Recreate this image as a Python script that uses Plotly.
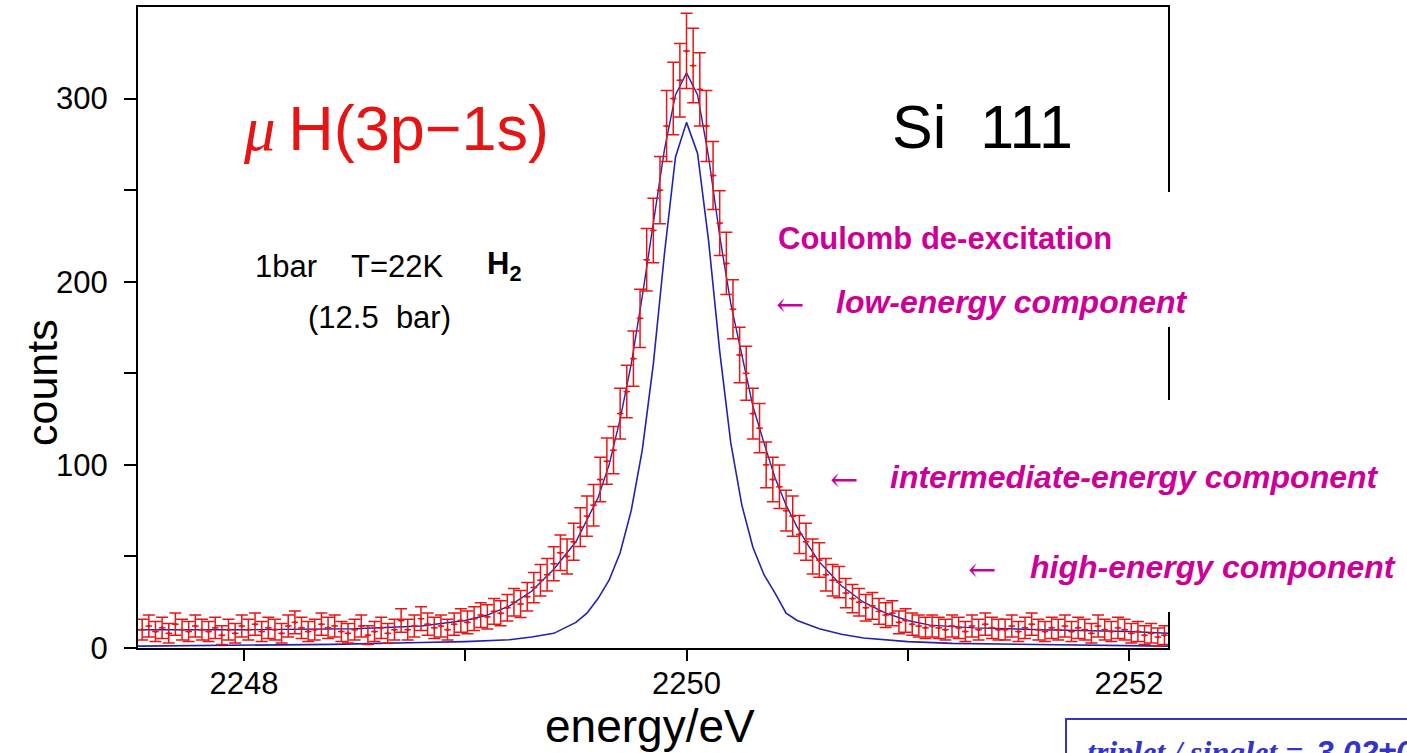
import numpy as np
import plotly.graph_objects as go

# ---------------- data ----------------
BIN_START = 2247.54   # eV, centre of first bin
BIN_WIDTH = 0.03      # eV

counts = [
    10, 12, 9, 11, 8, 13, 10, 9, 12, 10,
    9, 11, 7, 10, 8, 12, 10, 13, 9, 11,
    10, 8, 12, 14, 11, 9, 10, 13, 11, 12,
    9, 8, 10, 12, 7, 9, 11, 8, 10, 15,
    10, 12, 16, 13, 11, 12, 10, 13, 15, 14,
    16, 18, 17, 20, 19, 22, 25, 24, 28, 33,
    37, 40, 46, 52, 50, 58, 66, 72, 78, 92,
    102, 108, 128, 140, 158, 180, 212, 228, 250, 285,
    300, 310, 326, 318, 305, 285, 258, 232, 210, 185,
    160, 150, 128, 120, 100, 92, 88, 75, 72, 62,
    58, 50, 48, 40, 37, 36, 30, 27, 25, 22,
    23, 20, 18, 19, 14, 15, 13, 12, 11, 12,
    11, 10, 12, 11, 9, 12, 10, 13, 11, 10,
    10, 12, 9, 11, 13, 10, 9, 11, 10, 12,
    9, 11, 10, 8, 12, 10, 9, 11, 10, 8,
    9, 7, 8, 6, 7,
]
energy = [round(BIN_START + BIN_WIDTH * i, 3) for i in range(len(counts))]
errors = [float(np.sqrt(c)) + 2.5 for c in counts]

fit_energy = [2247.52, 2248.0, 2248.5, 2248.8, 2249.0, 2249.1, 2249.2, 2249.3, 2249.4,
              2249.5, 2249.6, 2249.65, 2249.7, 2249.75, 2249.8, 2249.85, 2249.9,
              2249.95, 2250.0, 2250.05, 2250.1, 2250.15, 2250.2, 2250.25, 2250.3,
              2250.35, 2250.4, 2250.45, 2250.5, 2250.55, 2250.6, 2250.7, 2250.8,
              2250.9, 2251.0, 2251.1, 2251.3, 2251.6, 2252.0, 2252.18]
fit_counts = [10, 10, 10.5, 12, 15, 18, 23, 31, 43,
              58, 82, 100, 125, 155, 192, 232, 272,
              302, 314, 302, 268, 225, 188, 160, 132,
              112, 93, 78, 66, 56, 47, 34, 25,
              19, 15, 12.5, 11, 10, 9, 8]

resp_energy = [2247.52, 2248.0, 2248.4, 2248.8, 2249.0, 2249.2, 2249.3, 2249.4, 2249.5,
               2249.55, 2249.6, 2249.65, 2249.7, 2249.75, 2249.8, 2249.85, 2249.9,
               2249.95, 2250.0, 2250.05, 2250.1, 2250.15, 2250.2, 2250.25, 2250.3,
               2250.35, 2250.4, 2250.45, 2250.5, 2250.6, 2250.7, 2250.8, 2250.9,
               2251.0, 2251.2, 2251.5, 2252.18]
resp_counts = [1, 1.5, 2, 3, 3.5, 4.5, 6, 8, 14,
               19, 27, 37, 52, 75, 108, 155, 215,
               268, 287, 270, 222, 162, 112, 78, 55,
               40, 30, 19, 15, 10.5, 7.5, 5.5, 4.5,
               3.5, 2.5, 2, 1]

x_tick_vals = [2248, 2250, 2252]
x_minor_vals = [2249, 2251]
y_tick_vals = [0, 100, 200, 300]
y_minor_vals = [50, 150, 250]

# ---------------- layout helpers ----------------
W, H = 1407, 753
L, R, T, B = 138, 239, 7, 105
PW, PH = W - L - R, H - T - B


def px(x):
    return (x - L) / PW


def py(y):
    return (H - B - y) / PH


SANS = "Liberation Sans, Arial, Helvetica, sans-serif"
SERIF = "Liberation Serif, Times New Roman, serif"
ARROWFONT = "DejaVu Serif, DejaVu Sans, serif"
MAGENTA = "#CC0099"
BLUE_BOX = "#3434C8"
LINE_BLUE = "#2222B0"
RED = "rgb(235,20,20)"

fig = go.Figure()

fig.add_trace(go.Scatter(x=resp_energy, y=resp_counts, mode="lines",
                         line=dict(color=LINE_BLUE, width=1.6), hoverinfo="skip"))
fig.add_trace(go.Scatter(x=fit_energy, y=fit_counts, mode="lines",
                         line=dict(color=LINE_BLUE, width=1.4), hoverinfo="skip"))
fig.add_trace(go.Scatter(
    x=energy, y=counts, mode="markers",
    marker=dict(color=RED, size=3),
    error_y=dict(type="data", array=errors, color=RED, thickness=1.5, width=6),
    error_x=dict(type="constant", value=BIN_WIDTH / 2, color=RED, thickness=1.5, width=0),
))

axis_common = dict(showgrid=False, zeroline=False, showline=True, linecolor="black",
                   linewidth=2, mirror=True, ticks="outside", tickcolor="black",
                   tickwidth=2, tickfont=dict(family=SANS, size=31, color="black"))

fig.update_xaxes(range=[2247.521, 2252.176], tickmode="array", tickvals=x_tick_vals,
                 ticktext=[str(v) for v in x_tick_vals], ticklen=11,
                 minor=dict(tickmode="array", tickvals=x_minor_vals, ticks="outside",
                            ticklen=11, tickwidth=2, tickcolor="black"),
                 ticklabelstandoff=-4, **axis_common)
fig.update_yaxes(range=[0, 350], tickmode="array", tickvals=y_tick_vals,
                 ticktext=[str(v) for v in y_tick_vals], ticklen=12,
                 minor=dict(tickmode="array", tickvals=y_minor_vals, ticks="outside",
                            ticklen=12, tickwidth=2, tickcolor="black"),
                 ticklabelstandoff=10, **axis_common)

shapes = [
    # white patches interrupting the right frame behind the annotations
    dict(type="rect", xref="paper", yref="paper", x0=px(1150), x1=px(1190),
         y0=py(327), y1=py(192), fillcolor="white", line=dict(width=0), layer="above"),
    dict(type="rect", xref="paper", yref="paper", x0=px(1150), x1=px(1190),
         y0=py(612), y1=py(400), fillcolor="white", line=dict(width=0), layer="above"),
    # blue box at the bottom right
    dict(type="rect", xref="paper", yref="paper", x0=px(1066), x1=px(1430),
         y0=py(800), y1=py(719), fillcolor="rgba(0,0,0,0)",
         line=dict(color=BLUE_BOX, width=2), layer="above"),
]

ann = []


def add(text, x, y, size, color="black", family=SANS, xanchor="left", **kw):
    ann.append(dict(text=text, x=px(x), y=py(y), xref="paper", yref="paper",
                    xanchor=xanchor, yanchor="middle", showarrow=False,
                    font=dict(family=family, size=size, color=color), **kw))


add("counts", 42, 383, 43, textangle=-90, xanchor="center")
add("energy/eV", 650, 726, 46, xanchor="center")
add("<span style=\"font-family:Liberation Serif\"><i>μ</i></span>\u2009H(3p\u22121s)",
    396, 128, 63, color="rgb(230,20,20)", xanchor="center")
add("Si\u00a0\u00a0111", 982, 127, 61, xanchor="center")
add("1bar", 253, 266, 31)
add("T=22K", 349, 266, 31)
add("<b>H<sub>2</sub></b>", 485, 266, 31)
add("(12.5\u00a0\u00a0bar)", 306, 317, 31)
add("<b>Coulomb de-excitation</b>", 776, 238, 31, color=MAGENTA)
add("\u2190", 774, 304, 34, color=MAGENTA, family=ARROWFONT)
add("<b><i>low-energy component</i></b>", 834, 302, 32, color=MAGENTA)
add("\u2190", 828, 479, 34, color=MAGENTA, family=ARROWFONT)
add("<b><i>intermediate-energy component</i></b>", 888, 477, 32, color=MAGENTA)
add("\u2190", 966, 569, 34, color=MAGENTA, family=ARROWFONT)
add("<b><i>high-energy component</i></b>", 1028, 567, 32, color=MAGENTA)
add("<b><i>triplet / singlet =</i></b>", 1085, 752, 32, color=BLUE_BOX, family=SERIF)
add("<b><i>3.02±0</i></b>", 1314, 752, 32, color=BLUE_BOX)

fig.update_layout(width=W, height=H, margin=dict(l=L, r=R, t=T, b=B, autoexpand=False),
                  paper_bgcolor="white", plot_bgcolor="white", showlegend=False,
                  shapes=shapes, annotations=ann)

fig.write_html("out.html")
